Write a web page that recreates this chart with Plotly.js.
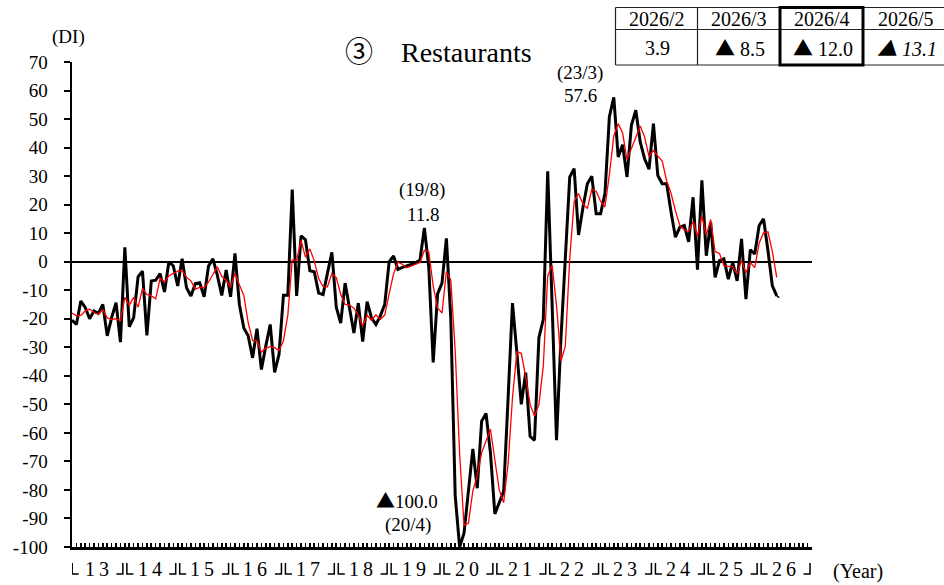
<!DOCTYPE html>
<html>
<head>
<meta charset="utf-8">
<script src="https://cdn.plot.ly/plotly-3.0.1.min.js"></script>
<style>
  html, body { margin: 0; padding: 0; background: #fff; }
  #chart { width: 944px; height: 585px; }
</style>
</head>
<body>
<div id="chart"></div>
<script>
// ---- Data (monthly DI, Restaurants) ----
// first point = 2012/12, last actual = 2026/4, forecast = 2026/5
const startYear = 2012, startMonth = 12;
const restaurantsDI = [
  -20.5,
  -22, -13.8, -16, -20, -17.3, -18.1, -15, -26, -19.6, -14.4, -28.2, 5,          // 2013
  -22.8, -19.6, -5.3, -3.3, -25.8, -6.8, -6.5, -4.2, -10.6, 0, -1.5, -8.5,       // 2014
  1, -9.1, -12, -7.7, -7.4, -12.3, -1.5, 1, -4.8, -11.8, -2.9, -12.3,            // 2015
  2.9, -15, -23.2, -26, -33.7, -23.5, -37.8, -29.5, -22, -38.8, -32.5, -11.8,    // 2016
  -11.8, 25.3, -12, 9.1, 7.7, -3.2, -3.5, -11, -11.5, -4, 3.3, -16,              // 2017
  -21.5, -7.5, -16.5, -25, -14.5, -28, -14, -19.7, -22, -19, -15, 0,             // 2018
  2, -2.7, -2, -1.5, -1, -0.4, 0.6, 11.8, -2, -35.3, -11.3, -7.5,                // 2019
  8.2, -20, -82, -100, -95.2, -80, -65.6, -79.4, -55.9, -53.2, -67, -88.4,       // 2020
  -84.6, -80.5, -48, -14.5, -31.9, -50, -38.9, -61.2, -62.6, -26.6, -20.2, 31.7, // 2021
  -15, -62.6, -27, 1, 29.7, 32.6, 9.4, 19, 27.3, 30, 16.8, 16.8,                 // 2022
  24, 50.8, 57.6, 36.7, 41, 29.7, 47.8, 53.1, 42, 36.1, 32.4, 48.4,              // 2023
  30.2, 27.3, 27.3, 17.4, 8.6, 12.1, 12.7, 7, 22.6, -2.8, 28.5, 2.1,             // 2024
  13.8, -5.5, 0.4, 1, -6.1, -0.2, -6.7, 8, -13.1, 4.2, 2.7, 12.7,                // 2025
  15, 3.9, -8.5, -12.0                                                           // 2026/1-4
];
const forecastDI = -13.1; // 2026/5 (forecast)

// 3-month moving average (red)
const movingAvg3 = [
  -18,
  -19, -18.8, -17.3, -16.6, -17.8, -18.5, -16.8, -19.7, -20.2, -20, -20.7, -12.5,
  -15.3, -12.5, -15.9, -9.4, -11.5, -12, -13, -5.8, -7.1, -4.9, -4, -3.3,
  -3, -5.5, -6.7, -9.6, -9, -9.1, -7.1, -4.3, -1.8, -5.2, -6.5, -9,
  -4.1, -8.1, -11.8, -21.4, -27.6, -27.7, -31.7, -30.3, -29.8, -30.1, -31.1, -27.7,
  -18.7, 0.6, 0.5, 7.5, 1.6, 4.5, 0.3, -5.9, -8.7, -8.8, -4.1, -5.6,
  -11.4, -15, -15.2, -16.3, -18.7, -22.5, -18.8, -20.6, -18.6, -20.2, -18.7, -11.3,
  -4.3, -0.2, -0.9, -2.1, -1.5, -1, -0.3, 4, 3.5, -8.5, -16.2, -18,
  -3.5, -6.4, -31.3, -67.3, -92.4, -91.7, -80.3, -75, -67, -62.8, -58.7, -69.5,
  -80, -84.5, -71, -47.7, -31.5, -32.1, -40.3, -50, -54.2, -50.1, -36.5, -5,
  -1.2, -15.3, -34.9, -29.5, 1.2, 21.1, 23.9, 20.3, 18.6, 25.4, 24.7, 21.2,
  19.2, 30.5, 44.1, 48.4, 45.1, 35.8, 39.5, 43.5, 47.6, 43.7, 36.8, 39,
  37, 35.3, 28.3, 24, 17.8, 12.7, 11.1, 10.6, 14.1, 8.9, 16.1, 9.3,
  14.8, 3.5, 2.9, -1.4, -1.6, -1.8, -4.3, 0.4, -3.9, -0.3, -2.1, 6.5,
  10.1, 10.5, 3.5, -5.5
];

const yearLabels = ['13','14','15','16','17','18','19','20','21','22','23','24','25','26'];
const yTickVals = [-100,-90,-80,-70,-60,-50,-40,-30,-20,-10,0,10,20,30,40,50,60,70];
const yTickText = ['-100','-90','-80','-70','-60','-50','-40','-30','-20','-10','0','10','20','30','40','50','60','70'];

const CJK = "'Noto Sans CJK JP', sans-serif";
const TRI = `<span style="font-family:${CJK}">▲</span>`;

const tableHeaders = ['2026/2', '2026/3', '2026/4', '2026/5'];
const tableValues  = ['3.9', TRI + ' 8.5', TRI + ' 12.0', '<i>' + TRI + ' 13.1</i>'];

const peakLabels = [
  {text: '(19/8)', px: 422, py: 190},
  {text: '11.8',   px: 423, py: 214},
  {text: '(23/3)', px: 580, py: 73},
  {text: '57.6',   px: 580, py: 96},
  {text: TRI + '100.0', px: 407, py: 499},
  {text: '(20/4)', px: 408, py: 525}
];

// month labels (category names) and positions
const months = restaurantsDI.map((_, i) => {
  const m0 = (startMonth - 1) + i;
  return (startYear + Math.floor(m0 / 12)) + '/' + ((m0 % 12) + 1);
});
const xIdx = restaurantsDI.map((_, i) => i);
const lastIdx = xIdx[xIdx.length - 1];

// ---- Layout geometry helpers (pixels -> paper) ----
const W = 944, H = 585;
const M = {l: 72, r: 132, t: 62, b: 38};
const PW = W - M.l - M.r, PH = H - M.t - M.b;
const px = v => (v - M.l) / PW;
const py = v => (H - M.b - v) / PH;
const SERIF = '"Liberation Serif", "Times New Roman", "DejaVu Serif", serif';

const traces = [
  {
    x: xIdx, y: restaurantsDI, text: months, type: 'scatter', mode: 'lines',
    line: {color: '#000', width: 3}, hoverinfo: 'text+y', name: 'DI'
  },
  {
    x: [lastIdx, lastIdx + 1], y: [restaurantsDI[lastIdx], forecastDI], type: 'scatter', mode: 'lines',
    line: {color: '#000', width: 1.5, dash: 'dot'}, hoverinfo: 'y', name: 'forecast'
  },
  {
    x: xIdx, y: movingAvg3, text: months, type: 'scatter', mode: 'lines',
    line: {color: '#ff0000', width: 1.3}, hoverinfo: 'text+y', name: '3MA'
  }
];

const annotations = [];
const shapes = [];

// title
annotations.push({text: `<span style="font-family:${CJK}">③\u3000</span>Restaurants`, x: px(438), y: py(50), xref: 'paper', yref: 'paper',
  showarrow: false, xanchor: 'center', yanchor: 'middle',
  font: {family: SERIF, size: 28, color: '#000'}});
// (DI)
annotations.push({text: '(DI)', x: px(68), y: py(37), xref: 'paper', yref: 'paper',
  showarrow: false, xanchor: 'center', yanchor: 'middle',
  font: {family: SERIF, size: 19, color: '#000'}});
// (Year)
annotations.push({text: '(Year)', x: px(858), y: py(571), xref: 'paper', yref: 'paper',
  showarrow: false, xanchor: 'center', yanchor: 'middle',
  font: {family: SERIF, size: 20, color: '#000'}});

peakLabels.forEach(p => annotations.push({text: p.text, x: px(p.px), y: py(p.py),
  xref: 'paper', yref: 'paper', showarrow: false, xanchor: 'center', yanchor: 'middle',
  font: {family: SERIF, size: 19, color: '#000'}}));

// year labels and bracket separators under the axis
const unit = PW / 168; // px per month
yearLabels.forEach((lab, i) => {
  annotations.push({text: lab.split('').join('\u2009'), x: 12 * i + 5.6, y: py(569), xref: 'x', yref: 'paper',
    showarrow: false, xanchor: 'center', yanchor: 'middle',
    font: {family: SERIF, size: 20, color: '#000'}});
});
const yTop = py(563), yBot = py(574);
for (let i = 0; i <= yearLabels.length; i++) {
  const b = 12 * i;
  const d = 2 / unit, foot = 6.5 / unit;
  if (i > 0) { // ┘
    shapes.push({type: 'path', xref: 'x', yref: 'paper',
      path: `M ${b - d} ${yTop} L ${b - d} ${yBot} L ${b - d - foot} ${yBot}`,
      line: {color: '#000', width: 1.5}});
  }
  if (i < yearLabels.length) { // └
    const dd = (i === 0) ? 0.2 / unit : d;
    shapes.push({type: 'path', xref: 'x', yref: 'paper',
      path: `M ${b + dd} ${yTop} L ${b + dd} ${yBot} L ${b + dd + foot} ${yBot}`,
      line: {color: '#000', width: 1.5}});
  }
}

// table (top right)
const colX = [615.5, 697.5, 780, 863, 946];
const rowY = [7.5, 29.5, 65];
const thin = {color: '#222', width: 1.2};
rowY.forEach(yv => shapes.push({type: 'line', xref: 'paper', yref: 'paper',
  x0: px(colX[0]), x1: px(colX[4]), y0: py(yv), y1: py(yv), line: thin}));
colX.forEach(xv => shapes.push({type: 'line', xref: 'paper', yref: 'paper',
  x0: px(xv), x1: px(xv), y0: py(rowY[0]), y1: py(rowY[2]), line: thin}));
shapes.push({type: 'rect', xref: 'paper', yref: 'paper',
  x0: px(colX[2]), x1: px(colX[3]), y0: py(rowY[0]), y1: py(rowY[2]),
  line: {color: '#000', width: 3}});
tableHeaders.forEach((h, i) => {
  const cx = (colX[i] + colX[i + 1]) / 2 + (i === 3 ? 1 : 0);
  annotations.push({text: h, x: px(cx), y: py(18.5), xref: 'paper', yref: 'paper',
    showarrow: false, xanchor: 'center', yanchor: 'middle',
    font: {family: SERIF, size: 20, color: '#000'}});
  annotations.push({text: tableValues[i], x: px(cx + 1), y: py(47.5), xref: 'paper', yref: 'paper',
    showarrow: false, xanchor: 'center', yanchor: 'middle',
    font: {family: SERIF, size: 20, color: '#000'}});
});

const layout = {
  width: W, height: H,
  margin: M,
  paper_bgcolor: '#fff', plot_bgcolor: '#fff',
  showlegend: false,
  font: {family: SERIF, size: 19, color: '#000'},
  xaxis: {
    range: [0, 168], type: 'linear', tick0: 0, dtick: 1,
    ticks: 'inside', ticklen: 4, tickwidth: 1.6, tickcolor: '#000',
    showticklabels: false, showgrid: false, zeroline: false,
    showline: true, linecolor: '#000', linewidth: 2.5, fixedrange: true
  },
  yaxis: {
    range: [-100, 70], tickmode: 'array', tickvals: yTickVals, ticktext: yTickText,
    ticks: 'outside', ticklen: 6, tickwidth: 2, tickcolor: '#000',
    ticklabelstandoff: 12,
    tickfont: {family: SERIF, size: 19, color: '#000'},
    showgrid: false, zeroline: true, zerolinecolor: '#000', zerolinewidth: 2,
    showline: true, linecolor: '#000', linewidth: 2.5, fixedrange: true
  },
  annotations: annotations,
  shapes: shapes
};

Plotly.newPlot('chart', traces, layout, {displayModeBar: false, staticPlot: true});
</script>
</body>
</html>
